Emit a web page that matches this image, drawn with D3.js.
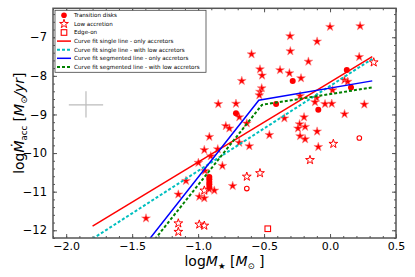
<!DOCTYPE html>
<html>
<head>
<meta charset="utf-8">
<script src="https://cdn.jsdelivr.net/npm/d3@7"></script>
<style>
  body { margin: 0; background: #fff; }
  text { font-family: "DejaVu Sans", sans-serif; }
</style>
</head>
<body>
<div id="scatter"></div>
<script>
// accretors (filled stars)
const accretors = [
  [0.000, -6.73], [0.228, -6.71], [-0.303, -6.97], [-0.098, -7.11], [-0.301, -7.36],
  [-0.595, -7.44], [0.221, -7.51], [-0.164, -7.63], [-0.531, -7.83], [-0.379, -7.85],
  [-0.515, -7.99], [-0.308, -7.93], [-0.220, -8.06], [-0.669, -8.13], [0.109, -8.11],
  [0.134, -8.15], [0.019, -8.37], [-0.518, -8.32], [-0.531, -8.41], [-0.536, -8.50],
  [-0.227, -8.52], [-0.102, -8.57], [-0.114, -8.68], [-0.038, -8.73], [0.013, -8.72],
  [0.260, -8.74], [-0.847, -8.73], [-0.713, -8.72], [-0.688, -9.07], [0.110, -8.99],
  [-0.346, -9.10], [-0.197, -9.07], [-0.231, -9.25], [-0.243, -9.36], [-0.189, -9.32],
  [-0.790, -9.30], [-0.763, -9.36], [-0.631, -9.23], [-0.460, -9.53], [-0.227, -9.56],
  [-0.189, -9.64], [-0.098, -9.44], [-0.089, -9.84], [-0.915, -9.58], [-0.688, -9.73],
  [-0.612, -9.82], [-0.953, -9.92], [-0.851, -9.90], [-0.904, -10.08], [-0.998, -10.25],
  [-0.948, -10.46], [-0.816, -10.33], [-0.738, -10.85], [-1.092, -10.72], [-0.915, -10.94],
  [-0.877, -10.97], [-0.991, -11.13], [-0.953, -11.17], [-1.150, -11.07], [-1.395, -11.69]
];
// low accretion (open stars)
const lowAccretion = [
  [0.331, -7.65], [0.025, -9.76], [-0.152, -10.18], [-0.531, -10.52], [-0.631, -10.61],
  [-0.953, -10.97], [-0.991, -11.85], [-0.953, -11.88], [-1.150, -11.82], [-1.150, -12.04]
];
// transition disks (filled circles)
const transitionDisks = [
  [0.127, -7.85], [-0.283, -8.13], [0.159, -8.30], [-0.409, -8.73], [-0.089, -8.88],
  [-0.713, -8.97], [-0.915, -10.62], [-0.915, -10.68], [-0.915, -10.75], [-0.915, -10.81],
  [-0.915, -10.88]
];
// transition disks with low accretion (open circles)
const transitionLow = [[0.222, -9.61], [-0.631, -10.92]];
// edge-on (open square)
const edgeOn = [[-0.472, -11.96]];

// fitted lines
const fitSingleAcc = [[-1.8, -11.89], [0.32, -7.50]];
const fitSingleLow = [[-1.8, -12.22], [0.32, -7.56]];
const fitSegAcc = [[-1.8, -14.10], [-0.54, -8.63], [0.32, -8.13]];
const fitSegLow = [[-1.8, -14.26], [-0.516, -8.75], [0.32, -8.30]];

const xTicks = [-2.0, -1.5, -1.0, -0.5, 0.0, 0.5];
const yTicks = [-12, -11, -10, -9, -8, -7];

const legendItems = [
  "Transition disks",
  "Low accretion",
  "Edge-on",
  "Curve fit single line - only accretors",
  "Curve fit single line - with low accretors",
  "Curve fit segmented line - only accretors",
  "Curve fit segmented line - with low accretors"
];

function initScatter(selector) {
  const W = 415, H = 277;
  const margin = {top: 8.3, right: 19, bottom: 39, left: 53};
  const width = W - margin.left - margin.right;
  const height = H - margin.top - margin.bottom;
  const red = "#ff0000";
  const frame = "#555";
  const minus = s => s.replace("-", "\u2212");

  const xScale = d3.scaleLinear().domain([-2.1, 0.5]).range([0, width]);
  const yScale = d3.scaleLinear().domain([-12.2, -6.25]).range([height, 0]);

  const svg = d3.select(selector).append("svg")
      .attr("width", W)
      .attr("height", H)
      .append("g")
      .attr("transform", `translate(${margin.left}, ${margin.top})`);

  svg.append("clipPath").attr("id", "clip")
      .append("rect").attr("width", width).attr("height", height);

  // minor ticks
  const xMinor = d3.range(-2.1, 0.51, 0.1).map(v => +v.toFixed(2));
  const yMinor = d3.range(-12.2, -6.2, 0.2).map(v => +v.toFixed(2));
  const addAxis = (axis, tr) => {
    const g = svg.append("g").attr("transform", tr).call(axis);
    g.select(".domain").remove();
    g.selectAll("line").attr("stroke", frame);
    return g;
  };
  addAxis(d3.axisBottom(xScale).tickValues(xMinor).tickSize(-2).tickFormat(""), `translate(0,${height})`);
  addAxis(d3.axisTop(xScale).tickValues(xMinor).tickSize(-2).tickFormat(""), "translate(0,0)");
  addAxis(d3.axisLeft(yScale).tickValues(yMinor).tickSize(-2).tickFormat(""), "translate(0,0)");
  addAxis(d3.axisRight(yScale).tickValues(yMinor).tickSize(-2).tickFormat(""), `translate(${width},0)`);

  const xa = addAxis(d3.axisBottom(xScale).tickValues(xTicks).tickSize(-4).tickPadding(4)
      .tickFormat(d => minus(d3.format(".1f")(d))), `translate(0,${height})`);
  addAxis(d3.axisTop(xScale).tickValues(xTicks).tickSize(-4).tickFormat(""), "translate(0,0)");
  const ya = addAxis(d3.axisLeft(yScale).tickValues(yTicks).tickSize(-4).tickPadding(6)
      .tickFormat(d => minus(String(d))), "translate(0,0)");
  addAxis(d3.axisRight(yScale).tickValues(yTicks).tickSize(-4).tickFormat(""), `translate(${width},0)`);
  xa.selectAll("text").attr("font-size", 11).attr("fill", "#000").attr("font-family", "DejaVu Sans");
  ya.selectAll("text").attr("font-size", 11.5).attr("fill", "#000").attr("font-family", "DejaVu Sans");

  const plot = svg.append("g").attr("clip-path", "url(#clip)");

  // error bar cross
  plot.append("line").attr("x1", xScale(-1.98)).attr("x2", xScale(-1.72))
      .attr("y1", yScale(-8.75)).attr("y2", yScale(-8.75))
      .attr("stroke", "#bbb").attr("stroke-width", 1.2);
  plot.append("line").attr("x1", xScale(-1.85)).attr("x2", xScale(-1.85))
      .attr("y1", yScale(-8.4)).attr("y2", yScale(-9.08))
      .attr("stroke", "#bbb").attr("stroke-width", 1.2);

  const line = d3.line().x(p => xScale(p[0])).y(p => yScale(p[1]));
  const lines = [
    {data: fitSingleAcc, color: red, dash: null, w: 1.5},
    {data: fitSingleLow, color: "#00bfbf", dash: "3,2", w: 2},
    {data: fitSegAcc, color: "#0000ff", dash: null, w: 1.5},
    {data: fitSegLow, color: "#008000", dash: "3,2", w: 2}
  ];

  const star = d3.symbol().type(d3.symbolStar).size(24);
  const put = p => `translate(${xScale(p[0])},${yScale(p[1])})`;

  plot.selectAll(".acc").data(accretors).enter().append("path")
      .attr("class", "acc").attr("d", star).attr("transform", put)
      .attr("fill", red).attr("stroke", "#ff8080").attr("stroke-width", 0.6);
  plot.selectAll(".low").data(lowAccretion).enter().append("path")
      .attr("class", "low").attr("d", star).attr("transform", put)
      .attr("fill", "#fff").attr("stroke", red).attr("stroke-width", 1);
  plot.selectAll(".td").data(transitionDisks).enter().append("circle")
      .attr("class", "td").attr("cx", p => xScale(p[0])).attr("cy", p => yScale(p[1]))
      .attr("r", 3).attr("fill", red);
  plot.selectAll(".tdl").data(transitionLow).enter().append("circle")
      .attr("class", "tdl").attr("cx", p => xScale(p[0])).attr("cy", p => yScale(p[1]))
      .attr("r", 2.3).attr("fill", "none").attr("stroke", red).attr("stroke-width", 1.1);
  plot.selectAll(".edge").data(edgeOn).enter().append("rect")
      .attr("class", "edge").attr("x", p => xScale(p[0]) - 2.8).attr("y", p => yScale(p[1]) - 2.8)
      .attr("width", 5.6).attr("height", 5.6)
      .attr("fill", "none").attr("stroke", red).attr("stroke-width", 1.1);

  lines.forEach(l => {
    plot.append("path").datum(l.data).attr("d", line)
        .attr("fill", "none").attr("stroke", l.color).attr("stroke-width", l.w)
        .attr("stroke-dasharray", l.dash);
  });

  // frame
  svg.append("rect").attr("width", width).attr("height", height)
      .attr("fill", "none").attr("stroke", frame).attr("stroke-width", 1.5);

  // legend
  const lg = svg.append("g").attr("transform", "translate(2,2)");
  lg.append("rect").attr("width", 151).attr("height", 62)
      .attr("fill", "#fff").attr("stroke", "#444").attr("stroke-width", 0.8);
  const rowY = i => 5 + i * 8.6;
  lg.append("circle").attr("cx", 9).attr("cy", rowY(0)).attr("r", 2.8).attr("fill", red);
  lg.append("path").attr("d", star).attr("transform", `translate(9,${rowY(1)})`)
      .attr("fill", "#fff").attr("stroke", red).attr("stroke-width", 1);
  lg.append("rect").attr("x", 6.2).attr("y", rowY(2) - 2.8).attr("width", 5.6).attr("height", 5.6)
      .attr("fill", "none").attr("stroke", red).attr("stroke-width", 1.1);
  lines.forEach((l, i) => {
    lg.append("line").attr("x1", 2).attr("x2", 16).attr("y1", rowY(i + 3)).attr("y2", rowY(i + 3))
        .attr("stroke", l.color).attr("stroke-width", l.w).attr("stroke-dasharray", l.dash);
  });
  lg.selectAll(".lt").data(legendItems).enter().append("text")
      .attr("x", 19).attr("y", (d, i) => rowY(i) + 2)
      .attr("font-size", 5.6).attr("fill", "#000").text(d => d);

  // axis labels
  const xl = svg.append("text").attr("x", width / 2).attr("y", height + 28)
      .attr("text-anchor", "middle").attr("font-size", 14);
  xl.append("tspan").text("log");
  xl.append("tspan").attr("font-style", "italic").text("M");
  xl.append("tspan").attr("font-size", 8.5).attr("dy", 3).text("\u2605");
  xl.append("tspan").attr("dy", -3).text(" [");
  xl.append("tspan").attr("font-style", "italic").text("M");
  xl.append("tspan").attr("font-size", 8.5).attr("dy", 3).text("\u2299");
  xl.append("tspan").attr("dy", -3).text(" ]");

  const yl = svg.append("text").attr("transform", `translate(-29,${height / 2}) rotate(-90)`)
      .attr("text-anchor", "middle").attr("font-size", 14);
  yl.append("tspan").text("log");
  yl.append("tspan").attr("font-style", "italic").text("\u1E40");
  yl.append("tspan").attr("font-size", 8.5).attr("dy", 3).text("acc");
  yl.append("tspan").attr("dy", -3).text(" [");
  yl.append("tspan").attr("font-style", "italic").text("M");
  yl.append("tspan").attr("font-size", 8.5).attr("dy", 3).text("\u2299");
  yl.append("tspan").attr("dy", -3).attr("font-style", "italic").text("/yr");
  yl.append("tspan").text("]");
}

function initContainers() {
  initScatter("#scatter");
}

document.addEventListener('DOMContentLoaded', function () {
  initContainers();
});
</script>
</body>
</html>
